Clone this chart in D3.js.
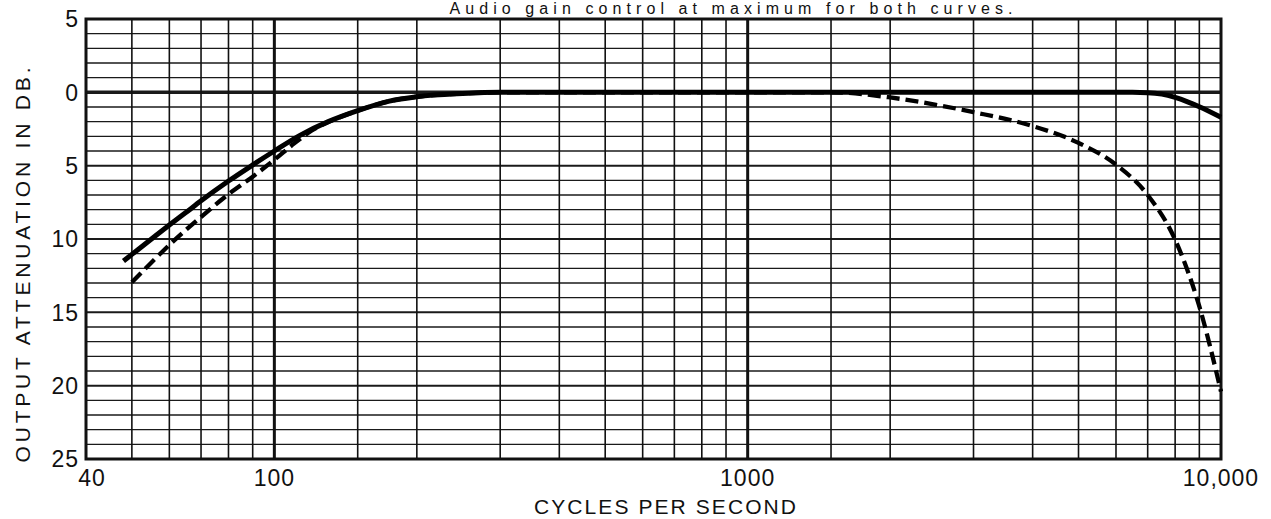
<!DOCTYPE html>
<html>
<head>
<meta charset="utf-8">
<script src="https://cdn.jsdelivr.net/npm/d3@7"></script>
<style>
  html, body { margin: 0; padding: 0; background: #fff; }
  svg { display: block; }
  text { font-family: "Liberation Sans", Arial, sans-serif; fill: #111; }
</style>
</head>
<body>
<svg id="chart" width="1271" height="519"></svg>
<script>
// ---- data ----
const titleText = "Audio gain control at maximum for both curves.";
const xLabel = "CYCLES PER SECOND";
const yLabel = "OUTPUT ATTENUATION IN DB.";

const xTickValues = [40, 100, 1000, 10000];
const xTickLabels = ["40", "100", "1000", "10,000"];
const xGridValues = [50, 60, 70, 80, 90, 100, 150, 200, 300, 400, 500, 600, 700, 800, 900,
                     1000, 1500, 2000, 3000, 4000, 5000, 6000, 7000, 8000, 9000];
const xMajorGrid = [100, 1000];

const yTickValues = [-5, 0, 5, 10, 15, 20, 25];
const yTickLabels = ["5", "0", "5", "10", "15", "20", "25"];

// solid curve
const solidFreq = [48, 50, 55, 60, 65, 70, 80, 90, 100, 113, 130, 150, 175, 200, 250, 300,
                   1000, 6500, 7000, 7500, 8000, 8500, 9000, 10000];
const solidDb   = [11.5, 11.05, 10.0, 9.05, 8.2, 7.4, 6.05, 4.95, 4.0, 2.95, 2.0, 1.25, 0.6, 0.3, 0.08, 0,
                   0, 0, 0.02, 0.12, 0.35, 0.65, 0.98, 1.7];

// dashed curve
const dashFreq = [50, 55, 60, 70, 80, 90, 100, 110, 120, 135, 150, 175, 200, 250, 300,
                  1000, 1500, 2000, 2500, 3000, 4000, 5000, 6000, 7000, 8000, 9000, 10000];
const dashDb   = [12.95, 11.6, 10.4, 8.5, 6.95, 5.75, 4.6, 3.5, 2.6, 1.8, 1.25, 0.6, 0.3, 0.08, 0,
                  0, 0, 0.35, 0.85, 1.35, 2.3, 3.45, 4.93, 7.0, 10.05, 14.6, 20.4];

// ---- layout ----
const plotL = 86, plotR = 1221, plotT = 19, plotB = 459;
const svg = d3.select("#chart");

const x = d3.scaleLog().domain([40, 10000]).range([plotL, plotR]);
const y = d3.scaleLinear().domain([-5, 25]).range([plotT, plotB]);

// horizontal grid every 1 dB
const g = svg.append("g");
const yGrid = d3.range(-4, 25, 1);
g.selectAll("line.hg").data(yGrid).enter().append("line")
  .attr("x1", plotL).attr("x2", plotR)
  .attr("y1", d => y(d)).attr("y2", d => y(d))
  .attr("stroke", "#1a1a1a")
  .attr("stroke-width", d => d === 0 ? 3.5 : (d % 5 === 0 ? 2 : 1.4));

// vertical grid
g.selectAll("line.vg").data(xGridValues).enter().append("line")
  .attr("x1", d => x(d)).attr("x2", d => x(d))
  .attr("y1", plotT).attr("y2", plotB)
  .attr("stroke", "#111")
  .attr("stroke-width", d => xMajorGrid.includes(d) ? 3 : 1.6);

// frame
svg.append("rect")
  .attr("x", plotL).attr("y", plotT)
  .attr("width", plotR - plotL).attr("height", plotB - plotT)
  .attr("fill", "none").attr("stroke", "#111").attr("stroke-width", 3);

// curves
const line = d3.line()
  .x(d => x(d[0])).y(d => y(d[1]))
  .curve(d3.curveMonotoneX);

svg.append("path")
  .attr("d", line(d3.zip(dashFreq, dashDb)))
  .attr("fill", "none").attr("stroke", "#000")
  .attr("stroke-width", 4.3).attr("stroke-dasharray", "13,6");

svg.append("path")
  .attr("d", line(d3.zip(solidFreq, solidDb)))
  .attr("fill", "none").attr("stroke", "#000")
  .attr("stroke-width", 5).attr("stroke-linecap", "butt");

// y tick labels
svg.selectAll("text.yt").data(yTickValues).enter().append("text")
  .attr("x", 79).attr("y", d => y(d))
  .attr("dy", "0.36em")
  .attr("text-anchor", "end")
  .attr("font-size", 23)
  .attr("letter-spacing", 1)
  .text((d, i) => yTickLabels[i]);

// x tick labels
svg.selectAll("text.xt").data(xTickValues).enter().append("text")
  .attr("x", d => x(d)).attr("y", 486)
  .attr("dx", d => d === 40 ? 6 : 0)
  .attr("text-anchor", "middle")
  .attr("font-size", 23)
  .attr("letter-spacing", 1)
  .text((d, i) => xTickLabels[i]);

// axis titles
svg.append("text")
  .attr("x", 665).attr("y", 514)
  .attr("text-anchor", "middle")
  .attr("font-size", 21)
  .attr("textLength", 262).attr("lengthAdjust", "spacing")
  .text(xLabel);

svg.append("text")
  .attr("transform", "translate(30,265) rotate(-90)")
  .attr("text-anchor", "middle")
  .attr("font-size", 21)
  .attr("textLength", 395).attr("lengthAdjust", "spacing")
  .text(yLabel);

// title above the frame
svg.append("text")
  .attr("x", 731).attr("y", 13.5)
  .attr("text-anchor", "middle")
  .attr("font-size", 16)
  .attr("textLength", 563).attr("lengthAdjust", "spacing")
  .text(titleText);
</script>
</body>
</html>
